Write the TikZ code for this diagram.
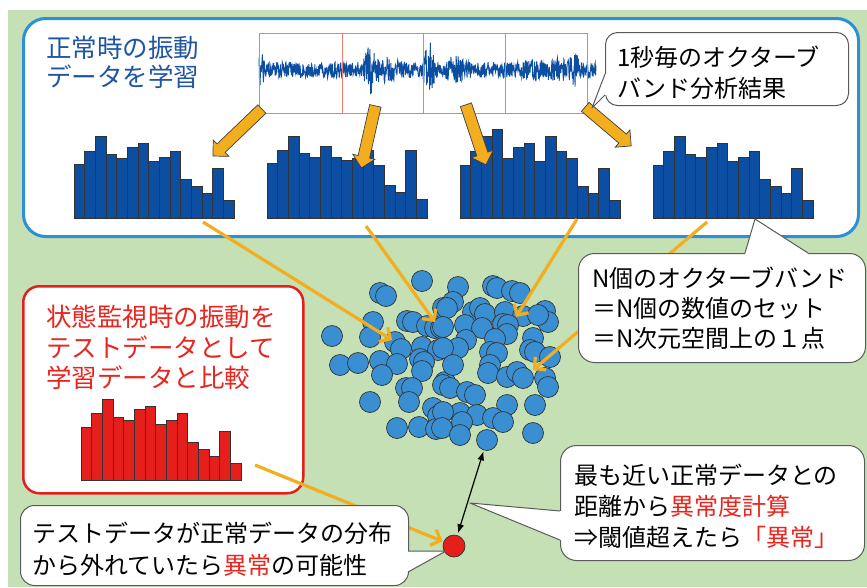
\documentclass[tikz,border=0pt]{standalone}
\usepackage{fontspec}
\setmainfont{Noto Sans CJK JP}
\usetikzlibrary{arrows.meta,calc,shapes.arrows}
\definecolor{bggreen}{HTML}{C5E0B4}
\definecolor{boxblue}{HTML}{2E8FD6}
\definecolor{titleblue}{HTML}{1F55A3}
\definecolor{barblue}{HTML}{0C4EA2}
\definecolor{dotblue}{HTML}{3A8FD2}
\definecolor{orng}{HTML}{F3AE1F}
\definecolor{barred}{HTML}{E5201C}
\definecolor{redtx}{HTML}{E8251E}
\definecolor{waveboxc}{HTML}{F07B6E}
\definecolor{callgray}{HTML}{5A5A5A}

\newcommand\histo[4]{%
  \foreach \h [count=\i] in {#4}{%
    \draw[histbar, fill=#3] ({#1+(\i-1)*10.67},#2) rectangle ++(10.67,-\h);}}
\newcommand\blockarrow[2]{%
  \path let \p1=($(#2)-(#1)$) in (#1) -- (#2)
    node[barrow, sloped, allow upside down, midway, minimum height={veclen(\x1,\y1)}] {};}
\newcommand\calltail[4]{%
  \fill[white] (#1) -- (#2) -- (#3) -- ($(#3)+#4$) -- ($(#1)+#4$) -- cycle;
  \draw[callline] (#1) -- (#2) -- (#3);}

\begin{document}
\begin{tikzpicture}[x=1pt,y=-1pt,
  histbar/.style={draw=black!80, line width=0.6pt},
  barrow/.style={single arrow, draw=black!75, line width=0.7pt, fill=orng,
    inner sep=5.5pt, single arrow head extend=5.5pt, minimum width=0pt},
  thinarr/.style={draw=orng, line width=3.2pt, -{Straight Barb[length=8pt,width=17pt]}},
  dotc/.style={circle, fill=dotblue, draw=black!80, line width=0.7pt, minimum size=21pt, inner sep=0pt},
  reddot/.style={circle, fill=barred, draw=black!80, line width=0.7pt, minimum size=22pt, inner sep=0pt},
  callbox/.style={draw=callgray, line width=1pt, fill=white, rectangle, inner sep=0pt, anchor=north west},
  callline/.style={draw=callgray, line width=1pt, line join=round},
  txtblk/.style={anchor=west, inner sep=0pt, align=left, font=\fontsize{24}{31}\selectfont},
  wave/.style={draw=barblue, line width=0.9pt},
  waveframe/.style={draw=waveboxc, line width=1pt}]
\useasboundingbox (0,0) rectangle (867,587);
\fill[white] (0,0) rectangle (867,587);
\fill[bggreen] (8,10) rectangle (867,587);

% top learning box
\node[rectangle, draw=boxblue, line width=3pt, fill=white, rounded corners=22pt,
  anchor=north west, minimum width=835pt, minimum height=218pt, inner sep=0pt] (learnbox) at (22,17) {};
\node[txtblk, text=titleblue, font=\fontsize{25.5}{29.5}\selectfont] (title) at (46,62.5) {正常時の振動\\データを学習};

% waveform
\pgfmathsetseed{4711}
\draw[wave] plot[domain=259:596, samples=900]
  (\x, {70 + rand*(8 + 12*max(0,1-abs(\x-261)/4) + 18*max(0,1-abs(\x-370)/9)
     + 6*max(0,1-abs(\x-385)/20) + 24*max(0,1-abs(\x-429)/7) + 8*max(0,1-abs(\x-455)/12)
     + 6*max(0,1-abs(\x-540)/18) + 15*max(0,1-abs(\x-574)/7) + 5*max(0,1-abs(\x-560)/10))});
\foreach \a/\b [count=\i] in {259/342,342/423,423/505,505/587}
  \node[waveframe, rectangle, inner sep=0pt, anchor=north west, minimum width={\b-\a}, minimum height=80pt] (seg\i) at (\a,33) {};

% blue histograms
\histo{74}{218}{barblue}{54,67,82,64,60,71,75,57,61,67,39,32,25,50,18}
\histo{267}{218}{barblue}{55,68,82,65,61,72,61,58,60,68,53,33,26,68,19}
\histo{460}{218}{barblue}{53,67,82,89,60,71,75,57,82,67,60,32,25,50,18}
\histo{653}{218}{barblue}{53,67,82,64,61,71,75,57,61,67,39,32,25,50,18}

% block arrows
\coordinate (w1) at (264,107); \coordinate (k1) at (215,154);
\coordinate (w2) at (376,103); \coordinate (k2) at (362,165);
\coordinate (w3) at (465,102); \coordinate (k3) at (485,162);
\coordinate (w4) at (583,105); \coordinate (k4) at (629,144);
\blockarrow{w1}{k1}
\blockarrow{w2}{k2}
\blockarrow{w3}{k3}
\blockarrow{w4}{k4}

% red test box
\node[rectangle, draw=barred, line width=2.5pt, fill=white, rounded corners=16pt,
  anchor=north west, minimum width=280pt, minimum height=207pt, inner sep=0pt] (testbox) at (22,285) {};
\node[txtblk, text=redtx, font=\fontsize{25.5}{30.5}\selectfont] (testtxt) at (46,347.5) {状態監視時の振動を\\テストデータとして\\学習データと比較};
\histo{81}{480}{barred}{53,67,81,63,60,71,74,56,60,67,38,31,24,49,17}

% scatter
\foreach \p [count=\i] in {(422,281),(380,293),(386,296),(373,322),(332,336),(370,337),(395,342),(401,349),
  (407,321),(413,322),(427,326),(435,328),(441,328),(422,347),(438,350),(340,365),(358,363),(380,361),
  (397,364),(382,375),(420,359),(424,362),(422,371),(406,388),(412,388),(409,402),(370,402),(433,408),
  (438,416),(397,428),(419,427),(436,429),(443,308),(445,382),(458,287),(493,286),(497,288),(512,291),
  (520,293),(453,302),(447,308),(473,312),(480,308),(485,314),(505,312),(523,316),(545,311),(548,322),
  (538,315),(443,327),(465,325),(482,328),(503,324),(508,325),(507,334),(466,340),(458,348),(443,348),
  (495,339),(490,352),(497,353),(533,338),(530,350),(535,352),(550,357),(453,365),(490,365),(488,373),
  (507,377),(517,372),(523,378),(545,378),(548,387),(443,385),(450,388),(467,392),(475,395),(535,405),
  (507,405),(460,413),(477,415),(493,418),(503,422),(443,412),(462,422),(442,428),(460,435),(533,433)}
  \node[dotc] (d\i) at \p {};
\node[dotc] (near) at (487,440) {};
\node[reddot] (test) at (454,546) {};

% thin orange arrows
\coordinate (h1o) at (203,222); \coordinate (t1) at (392,340);
\coordinate (h2o) at (366,226); \coordinate (t2) at (435,322);
\coordinate (h3o) at (577,219); \coordinate (t3) at (516,317);
\coordinate (h4o) at (707,222); \coordinate (t4) at (533,370);
\coordinate (hro) at (255,465);
\draw[thinarr] (h1o) -- (t1);
\draw[thinarr] (h2o) -- (t2);
\draw[thinarr] (h3o) -- (t3);
\draw[thinarr] (h4o) -- (t4);
\draw[thinarr, shorten >=1pt] (hro) -- (test);

% callout 1
\node[callbox, rounded corners=12pt, minimum width=243pt, minimum height=73pt] (c1) at (605,32) {};
\coordinate (c1a) at (605,74); \coordinate (c1t) at (592,108); \coordinate (c1b) at (605,95);
\calltail{c1a}{c1t}{c1b}{(4,0)}
\node[txtblk] (c1txt) at (617,72.5) {1秒毎のオクターブ\\バンド分析結果};

% callout N
\node[callbox, rounded corners=16pt, minimum width=287pt, minimum height=109pt] (c2) at (578,253) {};
\coordinate (c2a) at (745,253); \coordinate (c2t) at (755,219); \coordinate (c2b) at (808,253);
\calltail{c2a}{c2t}{c2b}{(0,4)}
\node[txtblk, font=\fontsize{24}{30}\selectfont] (c2txt) at (592,308) {N個のオクターブバンド\\＝N個の数値のセット\\＝N次元空間上の１点};

% callout bottom left
\node[callbox, rounded corners=14pt, minimum width=388pt, minimum height=80pt] (c3) at (20,505) {};
\coordinate (c3a) at (408,551); \coordinate (c3t) at (446,551); \coordinate (c3b) at (408,572);
\calltail{c3a}{c3t}{c3b}{(-4,0)}
\node[txtblk, font=\fontsize{24}{32}\selectfont] (c3txt) at (32,549) {テストデータが正常データの分布\\から外れていたら\textcolor{redtx}{異常}の可能性};

% callout bottom right
\node[callbox, rounded corners=16pt, minimum width=304pt, minimum height=115pt] (c4) at (560,445) {};
\coordinate (c4a) at (560,511); \coordinate (c4t) at (470,503); \coordinate (c4b) at (560,540);
\calltail{c4a}{c4t}{c4b}{(4,0)}
\node[txtblk] (c4txt) at (574,506) {最も近い正常データとの\\距離から\textcolor{redtx}{異常度計算}\\⇒閾値超えたら\textcolor{redtx}{「異常」}};

% distance arrow
\draw[line width=1.2pt, {Latex[length=9pt,width=7pt]}-{Latex[length=9pt,width=7pt]}, shorten <=2pt, shorten >=1pt] (test) -- (near);
\end{tikzpicture}
\end{document}
